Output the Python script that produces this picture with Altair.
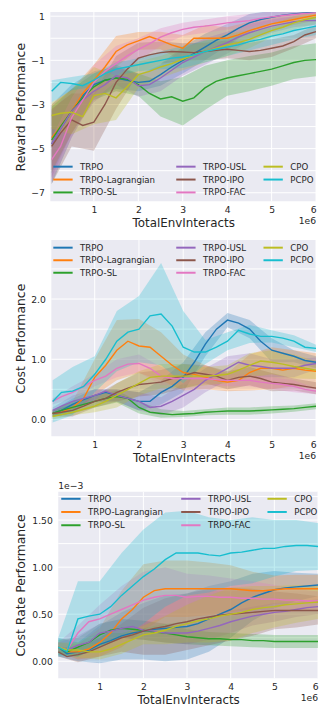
import altair as alt
import pandas as pd

SERIES = ["TRPO", "TRPO-Lagrangian", "TRPO-SL", "TRPO-USL", "TRPO-IPO", "TRPO-FAC", "CPO", "PCPO"]
COLORS = ["#1f77b4", "#ff7f0e", "#2ca02c", "#9467bd", "#8c564b", "#e377c2", "#bcbd22", "#17becf"]

# x positions (millions of env interacts) of the mean curves
X = [0.05, 0.25, 0.5, 0.75, 1.0, 1.25, 1.5, 1.75, 2.0, 2.25, 2.5, 2.75, 3.0,
     3.25, 3.5, 3.75, 4.0, 4.25, 4.5, 4.75, 5.0, 5.25, 5.5, 5.75, 6.0]
# x positions of the band half-widths (every other point of X)
XB = [0.05, 0.5, 1.0, 1.5, 2.0, 2.5, 3.0, 3.5, 4.0, 4.5, 5.0, 5.5, 6.0]
XTICKS = [1, 2, 3, 4, 5, 6]

# ---------------- Reward Performance ----------------
REWARD = {
    "TRPO": [-4.8, -4.1, -3.3, -2.6, -2.1, -1.9, -1.8, -1.9, -2.0, -1.95, -1.65, -1.3, -1.0,
             -0.7, -0.4, -0.1, 0.15, 0.45, 0.7, 0.85, 0.95, 1.05, 1.1, 1.15, 1.2],
    "TRPO-Lagrangian": [-4.5, -4.0, -3.3, -2.5, -1.9, -1.3, -0.6, -0.3, -0.12, 0.08, -0.1, -0.3, -0.45,
                        0.0, 0.0, 0.0, 0.0, 0.15, 0.35, 0.5, 0.65, 0.75, 0.85, 0.95, 1.05],
    "TRPO-SL": [-4.6, -4.0, -3.3, -2.7, -2.2, -1.9, -1.8, -1.85, -2.1, -2.5, -2.75, -2.65, -2.85,
                -2.7, -2.25, -1.95, -1.8, -1.7, -1.6, -1.5, -1.4, -1.25, -1.1, -1.0, -0.97],
    "TRPO-USL": [-4.8, -4.1, -3.3, -2.8, -2.4, -2.1, -1.7, -1.8, -2.15, -2.1, -1.8, -1.45, -1.1,
                 -0.85, -0.6, -0.4, -0.2, 0.05, 0.25, 0.4, 0.55, 0.65, 0.75, 0.8, 0.8],
    "TRPO-IPO": [-4.9, -4.3, -3.7, -3.95, -3.8, -3.0, -2.0, -1.4, -0.9, -0.75, -0.65, -0.6, -0.62,
                 -0.65, -0.6, -0.55, -0.5, -0.55, -0.6, -0.55, -0.45, -0.35, -0.15, 0.15, 0.3],
    "TRPO-FAC": [-5.5, -4.9, -3.6, -2.8, -2.0, -1.5, -1.15, -0.8, -0.5, -0.25, 0.05, 0.25, 0.4,
                 0.5, 0.55, 0.62, 0.7, 0.75, 0.8, 0.9, 0.97, 1.03, 1.08, 1.12, 1.15],
    "CPO": [-3.5, -3.4, -3.35, -3.55, -2.6, -2.5, -2.7, -2.2, -1.65, -1.5, -1.3, -1.15, -0.95,
            -0.75, -0.6, -0.45, -0.3, -0.2, -0.05, 0.15, 0.35, 0.5, 0.7, 0.85, 0.95],
    "PCPO": [-2.4, -2.0, -2.05, -2.15, -1.9, -1.6, -1.4, -1.3, -1.2, -1.1, -1.0, -0.9, -0.85,
             -0.75, -0.6, -0.5, -0.4, -0.3, -0.15, -0.05, 0.1, 0.2, 0.35, 0.45, 0.55],
}
REWARD_HW = {
    "TRPO": [1.8, 1.2, 0.6, 0.5, 0.4, 0.5, 0.6, 0.6, 0.5, 0.4, 0.3, 0.2, 0.15],
    "TRPO-Lagrangian": [1.5, 1.0, 0.7, 0.7, 0.4, 0.4, 0.6, 0.6, 0.5, 0.4, 0.3, 0.25, 0.25],
    "TRPO-SL": [1.5, 1.0, 0.6, 0.6, 0.5, 0.8, 1.1, 1.0, 0.8, 0.8, 0.75, 0.75, 0.75],
    "TRPO-USL": [1.5, 1.0, 0.5, 0.4, 0.5, 0.6, 0.6, 0.6, 0.5, 0.4, 0.3, 0.25, 0.2],
    "TRPO-IPO": [1.7, 1.2, 1.3, 1.2, 0.7, 0.5, 0.4, 0.4, 0.4, 0.4, 0.4, 0.3, 0.3],
    "TRPO-FAC": [1.0, 0.9, 0.8, 0.8, 0.5, 0.4, 0.3, 0.3, 0.3, 0.3, 0.25, 0.2, 0.2],
    "CPO": [0.6, 1.0, 1.3, 1.0, 0.6, 0.5, 0.5, 0.5, 0.5, 0.4, 0.3, 0.3, 0.3],
    "PCPO": [0.5, 0.3, 0.3, 0.3, 0.3, 0.4, 0.5, 0.5, 0.4, 0.4, 0.4, 0.4, 0.4],
}

# ---------------- Cost Performance ----------------
COST = {
    "TRPO": [0.1, 0.15, 0.25, 0.33, 0.4, 0.45, 0.4, 0.35, 0.3, 0.3, 0.45, 0.55, 0.7,
             0.95, 1.25, 1.5, 1.65, 1.6, 1.5, 1.3, 1.15, 1.1, 1.05, 0.98, 0.95],
    "TRPO-Lagrangian": [0.1, 0.12, 0.2, 0.35, 0.7, 0.9, 1.15, 1.3, 1.22, 1.2, 1.05, 0.9, 0.78,
                        0.75, 0.7, 0.65, 0.62, 0.65, 0.78, 0.85, 0.85, 0.82, 0.85, 0.82, 0.8],
    "TRPO-SL": [0.1, 0.15, 0.2, 0.25, 0.3, 0.35, 0.38, 0.35, 0.2, 0.12, 0.1, 0.08, 0.09,
                0.1, 0.12, 0.13, 0.14, 0.14, 0.14, 0.15, 0.16, 0.17, 0.18, 0.2, 0.22],
    "TRPO-USL": [0.15, 0.22, 0.3, 0.35, 0.4, 0.47, 0.4, 0.35, 0.3, 0.2, 0.22, 0.3, 0.4,
                 0.5, 0.65, 0.75, 0.85, 0.95, 0.9, 0.88, 0.85, 0.85, 0.85, 0.9, 0.93],
    "TRPO-IPO": [0.1, 0.12, 0.15, 0.22, 0.3, 0.35, 0.45, 0.52, 0.58, 0.6, 0.62, 0.68, 0.72,
                 0.78, 0.75, 0.72, 0.65, 0.7, 0.72, 0.68, 0.62, 0.6, 0.58, 0.55, 0.52],
    "TRPO-FAC": [0.3, 0.38, 0.45, 0.55, 0.65, 0.72, 0.85, 0.92, 0.93, 0.85, 0.72, 0.68, 0.68,
                 0.68, 0.68, 0.66, 0.65, 0.65, 0.65, 0.62, 0.6, 0.58, 0.55, 0.5, 0.47],
    "CPO": [0.05, 0.08, 0.12, 0.17, 0.22, 0.3, 0.4, 0.5, 0.6, 0.7, 0.72, 0.72, 0.72,
            0.72, 0.72, 0.73, 0.75, 0.82, 0.9, 0.97, 0.95, 0.92, 0.88, 0.85, 0.82],
    "PCPO": [0.3, 0.45, 0.47, 0.55, 0.75, 1.0, 1.3, 1.45, 1.5, 1.72, 1.75, 1.55, 1.2,
             1.12, 1.12, 1.2, 1.3, 1.48, 1.42, 1.38, 1.38, 1.35, 1.3, 1.2, 1.18],
}
COST_HW = {
    "TRPO": [0.05, 0.1, 0.1, 0.1, 0.15, 0.2, 0.25, 0.2, 0.12, 0.15, 0.2, 0.1, 0.1],
    "TRPO-Lagrangian": [0.05, 0.1, 0.3, 0.5, 0.45, 0.4, 0.3, 0.2, 0.15, 0.3, 0.35, 0.3, 0.3],
    "TRPO-SL": [0.05, 0.1, 0.1, 0.1, 0.1, 0.07, 0.05, 0.05, 0.06, 0.06, 0.06, 0.05, 0.05],
    "TRPO-USL": [0.05, 0.1, 0.1, 0.1, 0.15, 0.15, 0.2, 0.2, 0.2, 0.2, 0.15, 0.15, 0.1],
    "TRPO-IPO": [0.05, 0.1, 0.1, 0.15, 0.2, 0.2, 0.2, 0.15, 0.15, 0.15, 0.15, 0.1, 0.1],
    "TRPO-FAC": [0.05, 0.1, 0.1, 0.15, 0.15, 0.15, 0.1, 0.1, 0.1, 0.1, 0.1, 0.1, 0.05],
    "CPO": [0.05, 0.05, 0.1, 0.2, 0.2, 0.2, 0.2, 0.15, 0.15, 0.2, 0.2, 0.2, 0.15],
    "PCPO": [0.35, 0.4, 0.3, 0.5, 0.55, 0.85, 0.6, 0.2, 0.15, 0.15, 0.1, 0.1, 0.06],
}

# ---------------- Cost Rate Performance (x 1e-3) ----------------
RATE = {
    "TRPO": [0.15, 0.08, 0.1, 0.12, 0.18, 0.22, 0.27, 0.3, 0.32, 0.34, 0.35, 0.36, 0.37,
             0.4, 0.45, 0.5, 0.55, 0.62, 0.68, 0.72, 0.76, 0.78, 0.79, 0.8, 0.81],
    "TRPO-Lagrangian": [0.15, 0.1, 0.1, 0.13, 0.2, 0.3, 0.45, 0.55, 0.68, 0.75, 0.77, 0.77, 0.77,
                        0.77, 0.77, 0.77, 0.77, 0.76, 0.75, 0.75, 0.76, 0.77, 0.77, 0.77, 0.77],
    "TRPO-SL": [0.15, 0.1, 0.15, 0.2, 0.28, 0.33, 0.35, 0.34, 0.33, 0.31, 0.3, 0.28, 0.26,
                0.25, 0.24, 0.24, 0.23, 0.23, 0.22, 0.22, 0.21, 0.21, 0.21, 0.21, 0.21],
    "TRPO-USL": [0.15, 0.12, 0.17, 0.2, 0.3, 0.32, 0.35, 0.37, 0.33, 0.32, 0.3, 0.3, 0.3,
                 0.32, 0.35, 0.38, 0.42, 0.45, 0.48, 0.5, 0.52, 0.53, 0.55, 0.57, 0.58],
    "TRPO-IPO": [0.1, 0.05, 0.07, 0.1, 0.15, 0.2, 0.25, 0.28, 0.32, 0.35, 0.37, 0.4, 0.42,
                 0.45, 0.47, 0.49, 0.5, 0.51, 0.52, 0.53, 0.54, 0.54, 0.54, 0.54, 0.54],
    "TRPO-FAC": [0.15, 0.12, 0.3, 0.42, 0.45, 0.5, 0.55, 0.6, 0.65, 0.68, 0.7, 0.7, 0.68,
                 0.69, 0.69, 0.68, 0.68, 0.67, 0.67, 0.66, 0.66, 0.65, 0.65, 0.64, 0.64],
    "CPO": [0.15, 0.12, 0.12, 0.1, 0.1, 0.13, 0.18, 0.23, 0.28, 0.3, 0.33, 0.37, 0.4,
            0.43, 0.45, 0.48, 0.5, 0.52, 0.55, 0.57, 0.58, 0.6, 0.61, 0.62, 0.63],
    "PCPO": [0.15, 0.1, 0.45, 0.48, 0.5, 0.58, 0.7, 0.8, 0.9, 0.98, 1.08, 1.15, 1.15,
             1.15, 1.13, 1.12, 1.15, 1.16, 1.18, 1.2, 1.2, 1.22, 1.23, 1.23, 1.22],
}
RATE_HW = {
    "TRPO": [0.1, 0.1, 0.2, 0.25, 0.3, 0.35, 0.35, 0.35, 0.3, 0.25, 0.2, 0.15, 0.12],
    "TRPO-Lagrangian": [0.05, 0.08, 0.15, 0.3, 0.35, 0.3, 0.3, 0.28, 0.25, 0.2, 0.15, 0.15, 0.15],
    "TRPO-SL": [0.08, 0.1, 0.12, 0.1, 0.1, 0.1, 0.08, 0.07, 0.07, 0.07, 0.07, 0.07, 0.07],
    "TRPO-USL": [0.05, 0.1, 0.1, 0.1, 0.1, 0.1, 0.12, 0.12, 0.12, 0.1, 0.1, 0.08, 0.08],
    "TRPO-IPO": [0.05, 0.08, 0.1, 0.15, 0.25, 0.3, 0.3, 0.3, 0.28, 0.25, 0.2, 0.18, 0.15],
    "TRPO-FAC": [0.05, 0.08, 0.15, 0.25, 0.3, 0.3, 0.25, 0.22, 0.2, 0.18, 0.15, 0.12, 0.1],
    "CPO": [0.05, 0.08, 0.08, 0.1, 0.1, 0.15, 0.2, 0.25, 0.28, 0.25, 0.22, 0.2, 0.18],
    "PCPO": [0.1, 0.4, 0.35, 0.45, 0.5, 0.5, 0.45, 0.4, 0.35, 0.35, 0.3, 0.27, 0.25],
}

TEXT = "#262626"
FONT = "DejaVu Sans"
BG = "#EAEAF2"
COLOR_SCALE = alt.Scale(domain=SERIES, range=COLORS)


def frames(means, hws):
    lines, bands = [], []
    for s in SERIES:
        for x, v in zip(X, means[s]):
            lines.append({"x": x, "series": s, "y": v})
        for i, (x, h) in enumerate(zip(XB, hws[s])):
            m = means[s][2 * i]
            bands.append({"x": x, "series": s, "lo": m - h, "hi": m + h})
    return pd.DataFrame(lines), pd.DataFrame(bands)


def legend_frame(x0, col_x, row_y):
    # legend layout: 3 columns filled top-to-bottom, like matplotlib's ncol=3
    rows = []
    for i, s in enumerate(SERIES):
        c, r = divmod(i, 3)
        lx = x0 + col_x[c]
        rows.append({"series": s, "lx": lx, "lx2": lx + 19.5, "tx": lx + 27, "ly": row_y[r]})
    return pd.DataFrame(rows)


def panel(means, hws, ytitle, ydomain, yticks, yfmt, xmin, x0, w, h, extent,
          col_x, row_y, offset_text=None, top_space=0):
    ldf, bdf = frames(means, hws)
    gdf = legend_frame(x0, col_x, row_y)
    xs = alt.Scale(domain=[xmin, 6.0], range=[x0, w], nice=False, zero=False)
    ys = alt.Scale(domain=ydomain, nice=False, zero=False)
    xaxis = alt.Axis(title="TotalEnvInteracts", values=XTICKS, format="d",
                     labelPadding=4, titlePadding=3.5, titleFontSize=12)
    yaxis = alt.Axis(title=ytitle, values=yticks, format=yfmt, labelPadding=6,
                     titlePadding=0, minExtent=extent, maxExtent=extent,
                     titleFontSize=12.5, offset=-x0)

    bg = alt.Chart(pd.DataFrame({"k": [0]})).mark_rect(fill=BG).encode(
        x=alt.value(x0), x2=alt.value(w), y=alt.value(0), y2=alt.value(h))
    ygrid = alt.Chart(pd.DataFrame({"v": yticks})).mark_rule(color="white", strokeWidth=1).encode(
        y=alt.Y("v:Q", scale=ys, axis=yaxis), x=alt.value(x0), x2=alt.value(w))
    xgrid = alt.Chart(pd.DataFrame({"v": XTICKS})).mark_rule(color="white", strokeWidth=1).encode(
        x=alt.X("v:Q", scale=xs, axis=xaxis), y=alt.value(0), y2=alt.value(h))
    band = alt.Chart(bdf).mark_area(opacity=0.27, clip=True).encode(
        x=alt.X("x:Q", scale=xs),
        y=alt.Y("lo:Q", scale=ys),
        y2="hi:Q",
        fill=alt.Fill("series:N", scale=COLOR_SCALE, legend=None),
    )
    line = alt.Chart(ldf).mark_line(strokeWidth=1.4, clip=True).encode(
        x=alt.X("x:Q", scale=xs),
        y=alt.Y("y:Q", scale=ys),
        color=alt.Color("series:N", scale=COLOR_SCALE, legend=None),
    )
    leg_line = alt.Chart(gdf).mark_rule(strokeWidth=2).encode(
        x=alt.X("lx:Q", scale=None), x2="lx2:Q", y=alt.Y("ly:Q", scale=None),
        color=alt.Color("series:N", scale=COLOR_SCALE, legend=None),
    )
    leg_text = alt.Chart(gdf).mark_text(
        align="left", baseline="middle", fontSize=8.7, color=TEXT, font=FONT
    ).encode(x=alt.X("tx:Q", scale=None), y=alt.Y("ly:Q", scale=None), text="series:N")
    e6 = alt.Chart(pd.DataFrame({"t": ["1e6"]})).mark_text(
        align="right", baseline="middle", fontSize=9.3, color=TEXT, font=FONT
    ).encode(x=alt.value(w), y=alt.value(h + 19.5), text="t:N")
    layers = [bg, ygrid, xgrid, band, line, leg_line, leg_text, e6]
    if offset_text:
        layers.append(alt.Chart(pd.DataFrame({"t": [offset_text]})).mark_text(
            align="left", baseline="bottom", fontSize=9.3, color=TEXT, font=FONT
        ).encode(x=alt.value(x0), y=alt.value(-1), text="t:N"))
    if top_space:
        # invisible spacer that reserves room above the panel
        layers.append(alt.Chart(pd.DataFrame({"k": [0]})).mark_rule(
            opacity=0, strokeOpacity=0
        ).encode(x=alt.value(x0), x2=alt.value(x0 + 1), y=alt.value(-top_space)))
    return alt.layer(*layers).properties(width=w, height=h)


p1 = panel(REWARD, REWARD_HW, "Reward Performance", [-7.39, 1.19],
           [-7, -6, -5, -4, -3, -2, -1, 0, 1], "d", 0.02, 0, 268, 191, 22.8,
           [3, 127, 215], [156, 169, 182])
p2 = panel(COST, COST_HW, "Cost Performance", [-0.28, 2.98],
           [0.0, 0.5, 1.0, 1.5, 2.0, 2.5], ".1f", 0.02, 1, 268, 198, 23.8,
           [2, 126, 214], [7.7, 20.4, 33])
p3 = panel(RATE, RATE_HW, "Cost Rate Performance", [-0.18, 1.80],
           [0.0, 0.25, 0.5, 0.75, 1.0, 1.25, 1.5, 1.75], ".2f", 0.05, 8, 270, 188, 30.8,
           [3, 124, 211], [7, 20.3, 33.7], offset_text="1e\u22123", top_space=18)

chart = alt.vconcat(p1, p2, p3, spacing=10).resolve_scale(
    color="independent", fill="independent", x="independent", y="independent"
).properties(
    padding={"left": 6.7, "top": 0, "right": 0, "bottom": 0},
).configure_view(
    stroke=None
).configure_axis(
    grid=False, domain=False, ticks=False, tickSize=0,
    labelFont=FONT, titleFont=FONT, labelFontSize=9.3,
    labelColor=TEXT, titleColor=TEXT, titleFontWeight="normal"
)

chart.save("out.html", embed_options={"renderer": "svg", "actions": False})
